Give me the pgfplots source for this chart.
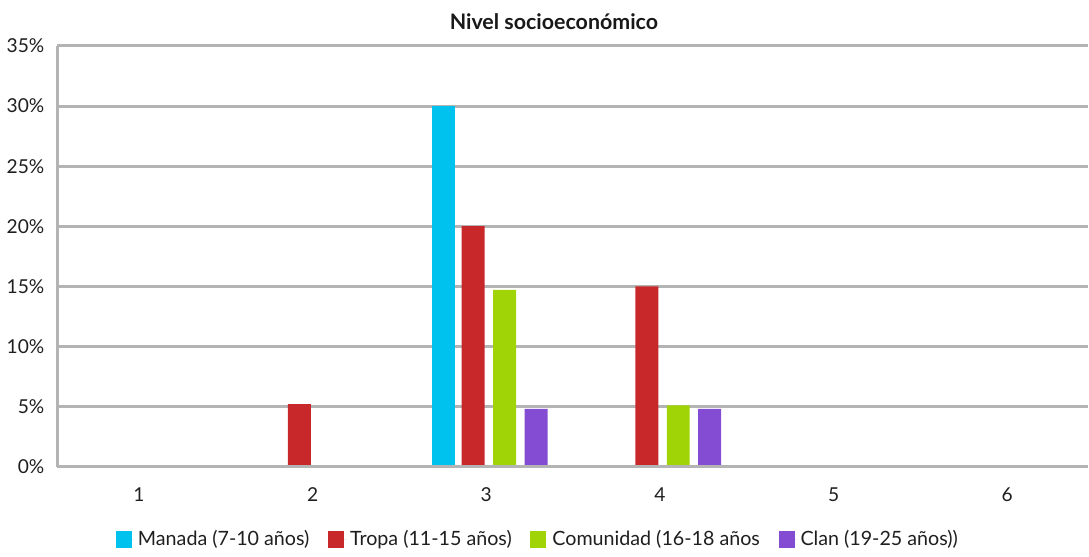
\documentclass[border=0pt]{standalone}
\usepackage{pgfplots}
\pgfplotsset{compat=1.18}
\usepackage{fontspec}
\setmainfont{Lato}
\definecolor{cmanada}{RGB}{0,194,238}
\definecolor{ctropa}{RGB}{200,40,42}
\definecolor{ccomun}{RGB}{160,212,6}
\definecolor{cclan}{RGB}{131,76,211}
\definecolor{cgrid}{RGB}{180,180,180}
\begin{document}
\begin{tikzpicture}
\begin{axis}[
  scale only axis,
  width=515.5pt, height=210.5pt,
  xmin=0.53, xmax=6.462,
  ymin=0, ymax=35,
  xtick={1,2,3,4,5,6},
  ytick={0,5,10,15,20,25,30,35},
  yticklabel={\pgfmathprintnumber{\tick}\%},
  /pgf/number format/assume math mode=true,
  ymajorgrids,
  grid style={cgrid, line width=1.5pt},
  axis x line*=bottom,
  x axis line style={draw=none},
  axis y line*=left,
  y axis line style={cgrid, line width=1.5pt, -},
  major tick length=0pt,
  tick style={draw=none},
  ticklabel style={font=\fontsize{9.6}{11}\selectfont, text=black!88},
  xticklabel style={yshift=-7pt},
  yticklabel style={xshift=-3pt},
  bar width=11.5pt,
  clip=false,
  legend style={draw=none, at={(0.4675,-0.1735)}, anchor=center,
    font=\fontsize{9.85}{11}\selectfont, text=black!88,
    /tikz/every even column/.append style={column sep=7.3pt}},
  legend columns=-1,
  legend image code/.code={\fill[#1] (0pt,-4pt) rectangle (8pt,4.5pt);
    \path (0pt,0pt) -- (9pt,0pt);},
]
\addplot[ybar, draw=none, fill=cmanada, bar shift=-21.65pt] coordinates {(3,30)};
\addplot[ybar, draw=none, fill=ctropa, bar shift=-6.6pt] coordinates {(2,5.2) (3,20) (4,15)};
\addplot[ybar, draw=none, fill=ccomun, bar shift=9.15pt] coordinates {(3,14.7) (4,5.1)};
\addplot[ybar, draw=none, fill=cclan, bar shift=24.9pt] coordinates {(3,4.8) (4,4.8)};
\legend{Manada (7-10 años), Tropa (11-15 años), Comunidad (16-18 años, Clan (19-25 años))}
\draw[cgrid, line width=1.5pt] (axis cs:0.53,0) -- (axis cs:6.462,0);
\node[font=\bfseries\fontsize{10.7}{12}\selectfont, text=black!90] at (rel axis cs:0.482,1.057) {Nivel socioeconómico};
\path (rel axis cs:0.5,1.057) -- ++(0,11pt);
\path (rel axis cs:0.5,-0.1735) -- ++(0,-6pt);
\end{axis}
\end{tikzpicture}
\end{document}
